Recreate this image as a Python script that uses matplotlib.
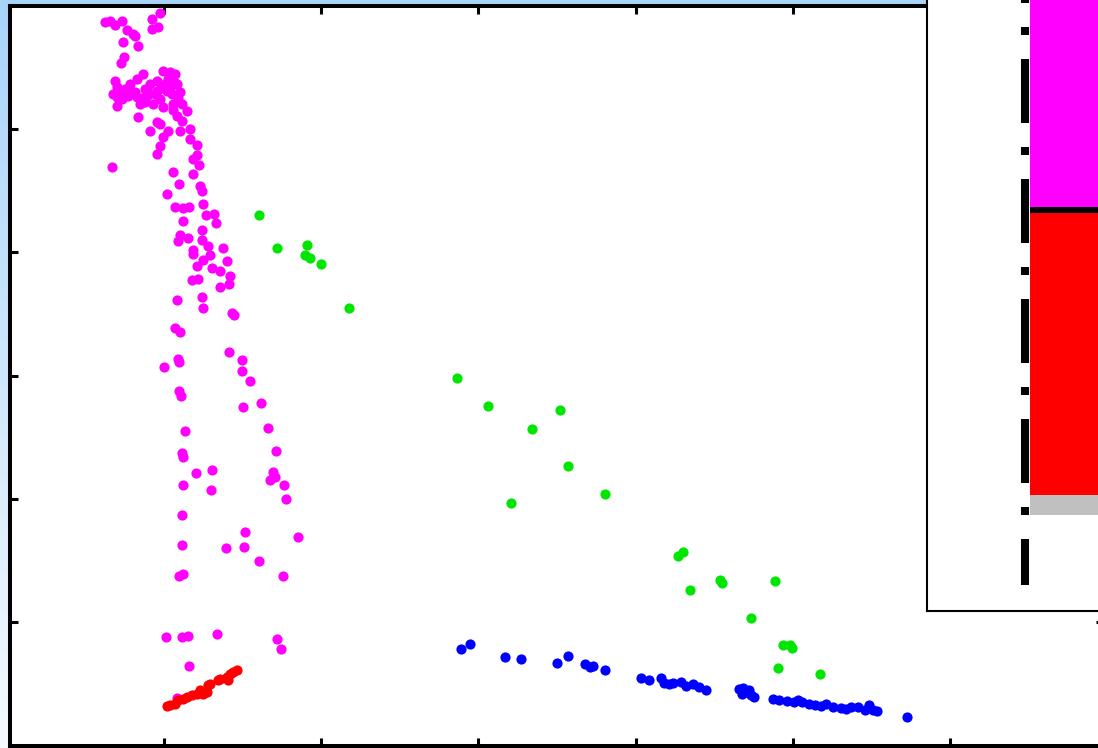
import numpy as np
import matplotlib
matplotlib.use("Agg")
from matplotlib import pyplot as plt

plt.rcParams['lines.scale_dashes'] = False

# magenta group
mag_x = [0.624, 0.656, 0.688, 0.732, 0.764, 0.803, 0.815, 0.924, 0.975, 0.962, 0.924, 0.739, 0.834, 0.745, 0.726,
         0.688, 0.701, 0.675, 0.720, 0.783, 0.828, 0.866, 0.911, 0.955, 0.994, 1.038, 1.070, 1.083, 1.102, 1.019,
         0.955, 0.892, 0.828, 0.771, 0.732, 0.701, 0.930, 0.994, 1.057, 1.115, 0.834, 1.083, 1.146, 1.115, 0.955,
         0.975, 0.911, 1.025, 0.994, 1.102, 1.166, 1.166, 0.975, 0.955, 1.210, 1.210, 1.185, 1.223, 0.669, 1.057,
         1.185, 1.096, 1.229, 1.242, 1.019, 1.248, 1.070, 1.121, 1.159, 1.318, 1.268, 1.121, 1.331, 1.242, 1.102,
         1.089, 1.153, 1.242, 1.376, 1.185, 1.280, 1.185, 1.293, 1.401, 1.210, 1.248, 1.306, 1.357, 1.420, 1.178,
         1.217, 1.357, 1.414, 1.083, 1.242, 1.248, 1.433, 1.446, 1.070, 1.102, 1.414, 1.497, 1.497, 1.548, 1.089,
         1.096, 1.000, 1.096, 1.108, 1.618, 1.503, 1.134, 1.662, 1.713, 1.115, 1.121, 1.204, 1.306, 1.694, 1.675,
         1.707, 1.764, 1.121, 1.299, 1.777, 1.115, 1.516, 1.854, 1.115, 1.395, 1.510, 1.605, 1.758, 1.096, 1.121,
         1.013, 1.115, 1.153, 1.338, 1.720, 1.745, 1.159, 1.083,
         0.752, 0.815, 0.879, 0.943, 1.006, 1.051, 0.847, 0.975, 1.070, 1.025,
         0.700, 0.740, 0.790, 0.860, 0.900, 0.980, 1.040, 1.090, 1.060, 0.880]
mag_y = [5.867, 5.875, 5.842, 5.875, 5.802, 5.770, 5.754, 5.891, 5.939, 5.826, 5.810, 5.705, 5.673, 5.584, 5.535,
         5.390, 5.341, 5.285, 5.301, 5.366, 5.406, 5.446, 5.366, 5.390, 5.471, 5.463, 5.446, 5.366, 5.301, 5.309,
         5.309, 5.269, 5.261, 5.269, 5.244, 5.188, 5.204, 5.180, 5.204, 5.204, 5.099, 5.107, 5.147, 5.067, 5.059,
         5.042, 4.986, 4.986, 4.937, 4.986, 5.002, 4.921, 4.857, 4.792, 4.865, 4.784, 4.752, 4.703, 4.687, 4.646,
         4.630, 4.549, 4.533, 4.493, 4.469, 4.388, 4.364, 4.356, 4.364, 4.307, 4.299, 4.251, 4.234, 4.178, 4.137,
         4.089, 4.113, 4.097, 4.032, 4.016, 4.048, 3.984, 3.976, 3.927, 3.887, 3.935, 3.871, 3.846, 3.806, 3.774,
         3.782, 3.717, 3.741, 3.612, 3.636, 3.547, 3.507, 3.491, 3.386, 3.354, 3.192, 3.127, 3.038, 2.958, 3.135,
         3.111, 3.071, 2.877, 2.836, 2.780, 2.747, 2.554, 2.578, 2.384, 2.368, 2.343, 2.206, 2.230, 2.214, 2.149,
         2.174, 2.109, 2.109, 2.069, 1.996, 1.867, 1.729, 1.689, 1.624, 1.600, 1.608, 1.495, 1.374, 1.374, 1.390,
         0.881, 0.881, 0.889, 0.905, 0.865, 0.784, 0.646, 0.388,
         5.325, 5.301, 5.325, 5.285, 5.366, 5.285, 5.204, 5.244, 5.374, 5.406,
         5.260, 5.300, 5.310, 5.250, 5.300, 5.330, 5.330, 5.250, 5.150, 5.220]

# green group
grn_x = [1.605, 1.720, 1.911, 1.898, 1.930, 2.000, 2.178, 2.866, 3.064, 3.338, 3.522, 3.567, 3.210, 3.803,
         4.268, 4.299, 4.344, 4.535, 4.548, 4.732, 4.885, 4.904, 4.936, 4.981, 4.994, 5.172]
grn_y = [4.299, 4.032, 4.057, 3.976, 3.952, 3.903, 3.547, 2.982, 2.756, 2.570, 2.723, 2.263, 1.964, 2.036,
         1.535, 1.568, 1.261, 1.341, 1.317, 1.034, 1.333, 0.630, 0.816, 0.816, 0.792, 0.582]

# blue group
blu_x = [2.892, 2.949, 3.172, 3.268, 3.503, 3.573, 3.675, 3.713, 3.732, 3.803, 4.032, 4.083, 4.159, 4.178,
         4.210, 4.236, 4.287, 4.318, 4.363, 4.401, 4.446, 4.656, 4.675, 4.701, 4.732, 4.752, 4.873, 4.911,
         4.962, 5.006, 5.032, 5.057, 5.102, 5.140, 5.178, 5.210, 5.255, 5.306, 5.338, 5.369, 5.414, 5.459,
         5.484, 5.510, 5.535, 5.726, 4.682, 4.720]
blu_y = [0.784, 0.824, 0.719, 0.703, 0.671, 0.727, 0.663, 0.638, 0.646, 0.614, 0.549, 0.533, 0.549, 0.509,
         0.501, 0.509, 0.517, 0.485, 0.501, 0.477, 0.453, 0.461, 0.420, 0.436, 0.412, 0.396, 0.380, 0.372,
         0.364, 0.356, 0.372, 0.356, 0.339, 0.331, 0.323, 0.339, 0.315, 0.307, 0.299, 0.315, 0.315, 0.291,
         0.331, 0.291, 0.283, 0.234, 0.469, 0.453]

# red group
red_x = [1.019, 1.038, 1.070, 1.089, 1.121, 1.146, 1.178, 1.210, 1.229, 1.248, 1.274, 1.280, 1.293, 1.344,
         1.357, 1.401, 1.420, 1.439, 1.465, 1.408]
red_y = [0.323, 0.331, 0.339, 0.372, 0.380, 0.396, 0.412, 0.420, 0.453, 0.420, 0.436, 0.493, 0.501, 0.533,
         0.541, 0.558, 0.582, 0.598, 0.614, 0.533]

# inset stacked bar (fractions, top part cropped)
bar_parts = [0.031, 0.438, 0.6]
bar_colors = ['#c0c0c0', '#ff0000', '#ff00ff']
ref_line_y = [-0.108, 1.2]

W, H = 1098, 748
fig = plt.figure(figsize=(W / 100, H / 100), dpi=100)

# light blue window background
bg = fig.add_axes([0, 0, 1, 1], zorder=-5)
grad = np.linspace(0, 1, 256).reshape(-1, 1)
c_top = np.array([0.66, 0.83, 0.98])
c_bot = np.array([0.96, 0.98, 1.0])
img = c_top[None, None, :] * (1 - grad[:, :, None]) + c_bot[None, None, :] * grad[:, :, None]
bg.imshow(img, aspect='auto', extent=[0, 1, 0, 1])
bg.axis('off')

ax = fig.add_axes([10 / W, 2.5 / H, 1094 / W, 740 / H], zorder=1)
ax.set_facecolor('white')
ms = 54
ax.scatter(mag_x, mag_y, s=ms, c='#ff00ff', linewidths=0, zorder=3)
ax.scatter(grn_x, grn_y, s=ms, c='#00e600', linewidths=0, zorder=3)
ax.scatter(blu_x, blu_y, s=ms, c='#0000ff', linewidths=0, zorder=3)
ax.scatter(red_x, red_y, s=ms, c='#ff0000', linewidths=0, zorder=4)
ax.set_xlim(0.02, 6.98)
ax.set_ylim(0, 6)
ax.set_xticks([1, 2, 3, 4, 5, 6])
ax.set_yticks([1, 2, 3, 4, 5])
ax.set_xticklabels([])
ax.set_yticklabels([])
ax.tick_params(direction='in', length=6, width=2.2, top=True, right=True, color='black')
for sp in ax.spines.values():
    sp.set_linewidth(2.9)

# inset
ins = fig.add_axes([927 / W, 137 / H, 270 / W, 650 / H], zorder=2)
ins.set_facecolor('white')
ins.set_xlim(-0.98, 1.72)
ins.set_ylim(-0.148, 0.852)
bottom = 0
for h, c in zip(bar_parts, bar_colors):
    ins.bar(0.05, h, width=1.2, bottom=bottom, color=c, align='edge', linewidth=0)
    bottom += h
ins.hlines(bar_parts[0] + bar_parts[1], 0.05, 1.5, colors='black', linewidth=4.3)
ins.plot([0, 0], ref_line_y, color='black', linewidth=5.8,
         linestyle=(12.96, (46.08, 17.28, 5.76, 17.28)))
ins.set_xticks([])
ins.set_yticks([])
for sp in ins.spines.values():
    sp.set_linewidth(1.5)

fig.savefig('out.png', dpi=100)
